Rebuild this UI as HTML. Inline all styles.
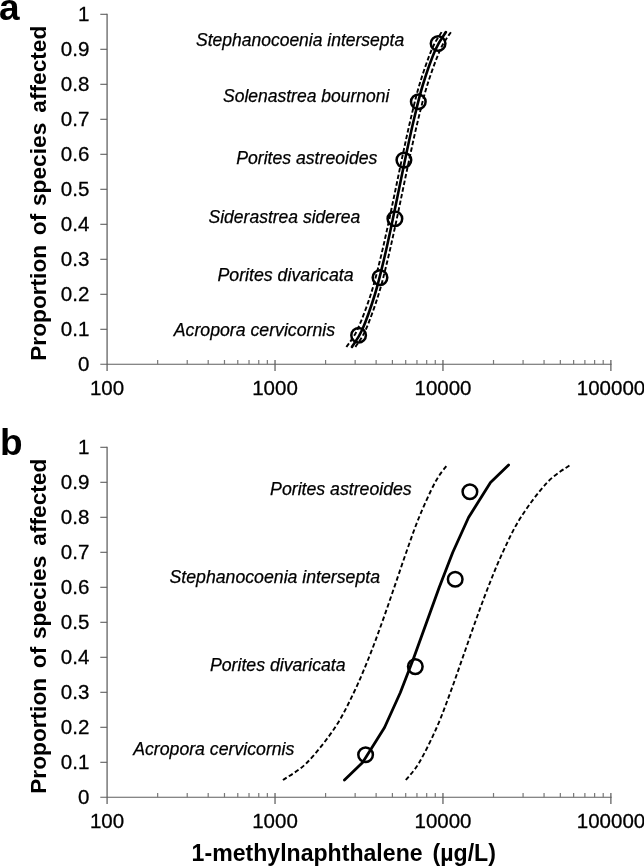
<!DOCTYPE html>
<html><head><meta charset="utf-8"><title>Figure</title>
<style>html,body{margin:0;padding:0;background:#fff}svg{display:block}</style>
</head><body>
<svg width="644" height="868" viewBox="0 0 644 868">
<rect width="644" height="868" fill="#fff"/>
<g fill="none">
<line x1="107.1" y1="13.800000000000011" x2="107.1" y2="370.90000000000003" stroke="#787878" stroke-width="1.5"/>
<line x1="100.3" y1="364.3" x2="611.59" y2="364.3" stroke="#5e5e5e" stroke-width="1.1"/>
<line x1="100.3" y1="329.30" x2="107.1" y2="329.30" stroke="#5e5e5e" stroke-width="1.1"/>
<line x1="100.3" y1="294.30" x2="107.1" y2="294.30" stroke="#5e5e5e" stroke-width="1.1"/>
<line x1="100.3" y1="259.30" x2="107.1" y2="259.30" stroke="#5e5e5e" stroke-width="1.1"/>
<line x1="100.3" y1="224.30" x2="107.1" y2="224.30" stroke="#5e5e5e" stroke-width="1.1"/>
<line x1="100.3" y1="189.30" x2="107.1" y2="189.30" stroke="#5e5e5e" stroke-width="1.1"/>
<line x1="100.3" y1="154.30" x2="107.1" y2="154.30" stroke="#5e5e5e" stroke-width="1.1"/>
<line x1="100.3" y1="119.30" x2="107.1" y2="119.30" stroke="#5e5e5e" stroke-width="1.1"/>
<line x1="100.3" y1="84.30" x2="107.1" y2="84.30" stroke="#5e5e5e" stroke-width="1.1"/>
<line x1="100.3" y1="49.30" x2="107.1" y2="49.30" stroke="#5e5e5e" stroke-width="1.1"/>
<line x1="100.3" y1="14.30" x2="107.1" y2="14.30" stroke="#5e5e5e" stroke-width="1.1"/>
<line x1="157.65" y1="360.0" x2="157.65" y2="364.3" stroke="#787878" stroke-width="1.2"/>
<line x1="187.22" y1="360.0" x2="187.22" y2="364.3" stroke="#787878" stroke-width="1.2"/>
<line x1="208.20" y1="360.0" x2="208.20" y2="364.3" stroke="#787878" stroke-width="1.2"/>
<line x1="224.48" y1="360.0" x2="224.48" y2="364.3" stroke="#787878" stroke-width="1.2"/>
<line x1="237.77" y1="360.0" x2="237.77" y2="364.3" stroke="#787878" stroke-width="1.2"/>
<line x1="249.02" y1="360.0" x2="249.02" y2="364.3" stroke="#787878" stroke-width="1.2"/>
<line x1="258.76" y1="360.0" x2="258.76" y2="364.3" stroke="#787878" stroke-width="1.2"/>
<line x1="267.35" y1="360.0" x2="267.35" y2="364.3" stroke="#787878" stroke-width="1.2"/>
<line x1="275.03" y1="360.0" x2="275.03" y2="370.90000000000003" stroke="#5e5e5e" stroke-width="1.25"/>
<line x1="325.58" y1="360.0" x2="325.58" y2="364.3" stroke="#787878" stroke-width="1.2"/>
<line x1="355.15" y1="360.0" x2="355.15" y2="364.3" stroke="#787878" stroke-width="1.2"/>
<line x1="376.13" y1="360.0" x2="376.13" y2="364.3" stroke="#787878" stroke-width="1.2"/>
<line x1="392.41" y1="360.0" x2="392.41" y2="364.3" stroke="#787878" stroke-width="1.2"/>
<line x1="405.70" y1="360.0" x2="405.70" y2="364.3" stroke="#787878" stroke-width="1.2"/>
<line x1="416.95" y1="360.0" x2="416.95" y2="364.3" stroke="#787878" stroke-width="1.2"/>
<line x1="426.69" y1="360.0" x2="426.69" y2="364.3" stroke="#787878" stroke-width="1.2"/>
<line x1="435.28" y1="360.0" x2="435.28" y2="364.3" stroke="#787878" stroke-width="1.2"/>
<line x1="442.96" y1="360.0" x2="442.96" y2="370.90000000000003" stroke="#5e5e5e" stroke-width="1.25"/>
<line x1="493.51" y1="360.0" x2="493.51" y2="364.3" stroke="#787878" stroke-width="1.2"/>
<line x1="523.08" y1="360.0" x2="523.08" y2="364.3" stroke="#787878" stroke-width="1.2"/>
<line x1="544.06" y1="360.0" x2="544.06" y2="364.3" stroke="#787878" stroke-width="1.2"/>
<line x1="560.34" y1="360.0" x2="560.34" y2="364.3" stroke="#787878" stroke-width="1.2"/>
<line x1="573.63" y1="360.0" x2="573.63" y2="364.3" stroke="#787878" stroke-width="1.2"/>
<line x1="584.88" y1="360.0" x2="584.88" y2="364.3" stroke="#787878" stroke-width="1.2"/>
<line x1="594.62" y1="360.0" x2="594.62" y2="364.3" stroke="#787878" stroke-width="1.2"/>
<line x1="603.21" y1="360.0" x2="603.21" y2="364.3" stroke="#787878" stroke-width="1.2"/>
<line x1="610.89" y1="360.0" x2="610.89" y2="370.90000000000003" stroke="#5e5e5e" stroke-width="1.25"/>
</g>
<g font-family="'Liberation Sans', Arial, sans-serif" font-size="20.5" fill="#000" stroke="#000" stroke-width="0.3">
<text x="89.3" y="370.8" text-anchor="end">0</text>
<text x="89.3" y="335.8" text-anchor="end">0.1</text>
<text x="89.3" y="300.8" text-anchor="end">0.2</text>
<text x="89.3" y="265.8" text-anchor="end">0.3</text>
<text x="89.3" y="230.8" text-anchor="end">0.4</text>
<text x="89.3" y="195.8" text-anchor="end">0.5</text>
<text x="89.3" y="160.8" text-anchor="end">0.6</text>
<text x="89.3" y="125.8" text-anchor="end">0.7</text>
<text x="89.3" y="90.8" text-anchor="end">0.8</text>
<text x="89.3" y="55.8" text-anchor="end">0.9</text>
<text x="89.3" y="20.8" text-anchor="end">1</text>
<text x="107.0" y="394.6" text-anchor="middle">100</text>
<text x="275.0" y="394.6" text-anchor="middle">1000</text>
<text x="443.0" y="394.6" text-anchor="middle">10000</text>
<text x="611.0" y="394.6" text-anchor="middle">100000</text>
</g>
<g font-family="'Liberation Sans', Arial, sans-serif" font-weight="bold" font-size="22.7" fill="#000">
<text transform="translate(45.8,360.8) rotate(-90)">Proportion</text>
<text transform="translate(45.8,235.2) rotate(-90)">of</text>
<text transform="translate(45.8,206.0) rotate(-90)">species</text>
<text transform="translate(45.8,112.7) rotate(-90)">affected</text>
</g>
<path d="M346.40 347.00 C348.25 344.08 353.44 338.25 357.50 329.50 C361.56 320.75 366.98 306.17 370.76 294.50 C374.54 282.83 377.28 271.17 380.18 259.50 C383.08 247.83 385.59 236.17 388.15 224.50 C390.70 212.83 393.07 201.17 395.52 189.50 C397.97 177.83 400.32 166.17 402.82 154.50 C405.33 142.83 407.78 131.17 410.56 119.50 C413.34 107.83 415.97 96.17 419.50 84.50 C423.03 72.83 428.04 58.25 431.73 49.50 C435.42 40.75 440.01 34.92 441.67 32.00" fill="none" stroke="#000" stroke-width="1.9" stroke-dasharray="4.5 2.3"/>
<path d="M355.43 347.00 C357.17 344.08 362.02 338.25 365.87 329.50 C369.72 320.75 374.91 306.17 378.55 294.50 C382.19 282.83 384.88 271.17 387.72 259.50 C390.55 247.83 393.03 236.17 395.57 224.50 C398.10 212.83 400.47 201.17 402.92 189.50 C405.37 177.83 407.74 166.17 410.29 154.50 C412.83 142.83 415.32 131.17 418.18 119.50 C421.04 107.83 423.76 96.17 427.45 84.50 C431.14 72.83 436.40 58.25 440.33 49.50 C444.26 40.75 449.22 34.92 451.00 32.00" fill="none" stroke="#000" stroke-width="1.9" stroke-dasharray="4.5 2.3"/>
<path d="M351.94 347.00 C353.67 344.08 358.50 338.25 362.32 329.50 C366.14 320.75 371.28 306.17 374.88 294.50 C378.49 282.83 381.14 271.17 383.94 259.50 C386.74 247.83 389.19 236.17 391.68 224.50 C394.18 212.83 396.51 201.17 398.92 189.50 C401.33 177.83 403.66 166.17 406.16 154.50 C408.65 142.83 411.10 131.17 413.90 119.50 C416.70 107.83 419.35 96.17 422.96 84.50 C426.56 72.83 431.70 58.25 435.52 49.50 C439.34 40.75 444.17 34.92 445.90 32.00" fill="none" stroke="#000" stroke-width="2.6" stroke-linecap="round" stroke-linejoin="round"/>
<g fill="none" stroke="#000" stroke-width="2.5">
<circle cx="358.6" cy="335.3" r="7.3"/>
<circle cx="380" cy="277.6" r="7.3"/>
<circle cx="394.9" cy="218.8" r="7.3"/>
<circle cx="403.9" cy="160.1" r="7.3"/>
<circle cx="418.3" cy="101.8" r="7.3"/>
<circle cx="438.1" cy="43.5" r="7.3"/>
</g>
<g font-family="'Liberation Sans', Arial, sans-serif" font-style="italic" font-size="17.5" fill="#000" stroke="#000" stroke-width="0.25">
<text x="404.2" y="46.1" text-anchor="end">Stephanocoenia intersepta</text>
<text x="389.4" y="102.0" text-anchor="end">Solenastrea bournoni</text>
<text x="377.4" y="163.8" text-anchor="end" font-size="17.65">Porites astreoides</text>
<text x="360.3" y="222.5" text-anchor="end">Siderastrea siderea</text>
<text x="353.6" y="280.5" text-anchor="end" font-size="17.75">Porites divaricata</text>
<text x="335.0" y="336.4" text-anchor="end" font-size="17.7">Acropora cervicornis</text>
</g>
<g fill="none">
<line x1="107.1" y1="446.79999999999995" x2="107.1" y2="803.9" stroke="#787878" stroke-width="1.5"/>
<line x1="100.3" y1="797.3" x2="611.59" y2="797.3" stroke="#5e5e5e" stroke-width="1.1"/>
<line x1="100.3" y1="762.30" x2="107.1" y2="762.30" stroke="#5e5e5e" stroke-width="1.1"/>
<line x1="100.3" y1="727.30" x2="107.1" y2="727.30" stroke="#5e5e5e" stroke-width="1.1"/>
<line x1="100.3" y1="692.30" x2="107.1" y2="692.30" stroke="#5e5e5e" stroke-width="1.1"/>
<line x1="100.3" y1="657.30" x2="107.1" y2="657.30" stroke="#5e5e5e" stroke-width="1.1"/>
<line x1="100.3" y1="622.30" x2="107.1" y2="622.30" stroke="#5e5e5e" stroke-width="1.1"/>
<line x1="100.3" y1="587.30" x2="107.1" y2="587.30" stroke="#5e5e5e" stroke-width="1.1"/>
<line x1="100.3" y1="552.30" x2="107.1" y2="552.30" stroke="#5e5e5e" stroke-width="1.1"/>
<line x1="100.3" y1="517.30" x2="107.1" y2="517.30" stroke="#5e5e5e" stroke-width="1.1"/>
<line x1="100.3" y1="482.30" x2="107.1" y2="482.30" stroke="#5e5e5e" stroke-width="1.1"/>
<line x1="100.3" y1="447.30" x2="107.1" y2="447.30" stroke="#5e5e5e" stroke-width="1.1"/>
<line x1="157.65" y1="793.0" x2="157.65" y2="797.3" stroke="#787878" stroke-width="1.2"/>
<line x1="187.22" y1="793.0" x2="187.22" y2="797.3" stroke="#787878" stroke-width="1.2"/>
<line x1="208.20" y1="793.0" x2="208.20" y2="797.3" stroke="#787878" stroke-width="1.2"/>
<line x1="224.48" y1="793.0" x2="224.48" y2="797.3" stroke="#787878" stroke-width="1.2"/>
<line x1="237.77" y1="793.0" x2="237.77" y2="797.3" stroke="#787878" stroke-width="1.2"/>
<line x1="249.02" y1="793.0" x2="249.02" y2="797.3" stroke="#787878" stroke-width="1.2"/>
<line x1="258.76" y1="793.0" x2="258.76" y2="797.3" stroke="#787878" stroke-width="1.2"/>
<line x1="267.35" y1="793.0" x2="267.35" y2="797.3" stroke="#787878" stroke-width="1.2"/>
<line x1="275.03" y1="793.0" x2="275.03" y2="803.9" stroke="#5e5e5e" stroke-width="1.25"/>
<line x1="325.58" y1="793.0" x2="325.58" y2="797.3" stroke="#787878" stroke-width="1.2"/>
<line x1="355.15" y1="793.0" x2="355.15" y2="797.3" stroke="#787878" stroke-width="1.2"/>
<line x1="376.13" y1="793.0" x2="376.13" y2="797.3" stroke="#787878" stroke-width="1.2"/>
<line x1="392.41" y1="793.0" x2="392.41" y2="797.3" stroke="#787878" stroke-width="1.2"/>
<line x1="405.70" y1="793.0" x2="405.70" y2="797.3" stroke="#787878" stroke-width="1.2"/>
<line x1="416.95" y1="793.0" x2="416.95" y2="797.3" stroke="#787878" stroke-width="1.2"/>
<line x1="426.69" y1="793.0" x2="426.69" y2="797.3" stroke="#787878" stroke-width="1.2"/>
<line x1="435.28" y1="793.0" x2="435.28" y2="797.3" stroke="#787878" stroke-width="1.2"/>
<line x1="442.96" y1="793.0" x2="442.96" y2="803.9" stroke="#5e5e5e" stroke-width="1.25"/>
<line x1="493.51" y1="793.0" x2="493.51" y2="797.3" stroke="#787878" stroke-width="1.2"/>
<line x1="523.08" y1="793.0" x2="523.08" y2="797.3" stroke="#787878" stroke-width="1.2"/>
<line x1="544.06" y1="793.0" x2="544.06" y2="797.3" stroke="#787878" stroke-width="1.2"/>
<line x1="560.34" y1="793.0" x2="560.34" y2="797.3" stroke="#787878" stroke-width="1.2"/>
<line x1="573.63" y1="793.0" x2="573.63" y2="797.3" stroke="#787878" stroke-width="1.2"/>
<line x1="584.88" y1="793.0" x2="584.88" y2="797.3" stroke="#787878" stroke-width="1.2"/>
<line x1="594.62" y1="793.0" x2="594.62" y2="797.3" stroke="#787878" stroke-width="1.2"/>
<line x1="603.21" y1="793.0" x2="603.21" y2="797.3" stroke="#787878" stroke-width="1.2"/>
<line x1="610.89" y1="793.0" x2="610.89" y2="803.9" stroke="#5e5e5e" stroke-width="1.25"/>
</g>
<g font-family="'Liberation Sans', Arial, sans-serif" font-size="20.5" fill="#000" stroke="#000" stroke-width="0.3">
<text x="89.3" y="803.8" text-anchor="end">0</text>
<text x="89.3" y="768.8" text-anchor="end">0.1</text>
<text x="89.3" y="733.8" text-anchor="end">0.2</text>
<text x="89.3" y="698.8" text-anchor="end">0.3</text>
<text x="89.3" y="663.8" text-anchor="end">0.4</text>
<text x="89.3" y="628.8" text-anchor="end">0.5</text>
<text x="89.3" y="593.8" text-anchor="end">0.6</text>
<text x="89.3" y="558.8" text-anchor="end">0.7</text>
<text x="89.3" y="523.8" text-anchor="end">0.8</text>
<text x="89.3" y="488.8" text-anchor="end">0.9</text>
<text x="89.3" y="453.8" text-anchor="end">1</text>
<text x="107.0" y="827.6" text-anchor="middle">100</text>
<text x="275.0" y="827.6" text-anchor="middle">1000</text>
<text x="443.0" y="827.6" text-anchor="middle">10000</text>
<text x="611.0" y="827.6" text-anchor="middle">100000</text>
</g>
<g font-family="'Liberation Sans', Arial, sans-serif" font-weight="bold" font-size="22.7" fill="#000">
<text transform="translate(45.8,793.8) rotate(-90)">Proportion</text>
<text transform="translate(45.8,668.2) rotate(-90)">of</text>
<text transform="translate(45.8,639.0) rotate(-90)">species</text>
<text transform="translate(45.8,545.7) rotate(-90)">affected</text>
</g>
<path d="M282.96 780.00 C286.99 777.08 298.47 771.25 307.15 762.50 C315.82 753.75 327.24 739.17 335.02 727.50 C342.81 715.83 348.21 704.17 353.86 692.50 C359.51 680.83 364.22 669.17 368.92 657.50 C373.61 645.83 377.82 634.17 382.03 622.50 C386.25 610.83 390.17 599.17 394.20 587.50 C398.22 575.83 402.05 564.17 406.19 552.50 C410.32 540.83 414.20 529.17 419.01 517.50 C423.82 505.83 430.35 491.25 435.03 482.50 C439.72 473.75 445.09 467.92 447.11 465.00" fill="none" stroke="#000" stroke-width="1.9" stroke-dasharray="4.5 2.6"/>
<path d="M405.86 780.00 C408.09 777.08 414.12 771.25 419.27 762.50 C424.41 753.75 431.55 739.17 436.72 727.50 C441.90 715.83 445.99 704.17 450.33 692.50 C454.66 680.83 458.62 669.17 462.73 657.50 C466.85 645.83 470.82 634.17 475.03 622.50 C479.24 610.83 483.41 599.17 488.02 587.50 C492.62 575.83 497.21 564.17 502.66 552.50 C508.11 540.83 513.29 529.17 520.71 517.50 C528.13 505.83 538.94 491.25 547.16 482.50 C555.37 473.75 566.19 467.92 570.00 465.00" fill="none" stroke="#000" stroke-width="1.9" stroke-dasharray="4.5 2.6"/>
<path d="M344.46 780.00 L362.59 762.50 L384.54 727.50 L400.37 692.50 L413.89 657.50 L426.53 622.50 L439.17 587.50 L452.70 552.50 L468.53 517.50 L490.48 482.50 L508.60 465.00" fill="none" stroke="#000" stroke-width="2.8" stroke-linecap="round" stroke-linejoin="round"/>
<g fill="none" stroke="#000" stroke-width="2.5">
<circle cx="365.6" cy="754.7" r="7.3"/>
<circle cx="415.3" cy="666.6" r="7.3"/>
<circle cx="455.2" cy="579.3" r="7.3"/>
<circle cx="469.9" cy="491.7" r="7.3"/>
</g>
<g font-family="'Liberation Sans', Arial, sans-serif" font-style="italic" font-size="17.7" fill="#000" stroke="#000" stroke-width="0.25">
<text x="411.7" y="494.8" text-anchor="end">Porites astreoides</text>
<text x="380.0" y="582.9" text-anchor="end">Stephanocoenia intersepta</text>
<text x="345.6" y="671.1" text-anchor="end">Porites divaricata</text>
<text x="294.4" y="754.6" text-anchor="end">Acropora cervicornis</text>
</g>
<g font-family="'Liberation Sans', Arial, sans-serif" font-weight="bold" font-size="37" fill="#000">
<text x="-1" y="20">a</text>
<text x="0" y="454.5">b</text>
</g>
<g font-family="'Liberation Sans', Arial, sans-serif" font-weight="bold" font-size="23.1" fill="#000">
<text x="191.6" y="861.4">1-methylnaphthalene</text>
<text x="432.6" y="861.4">(µg/L)</text>
</g>
</svg>
</body></html>
